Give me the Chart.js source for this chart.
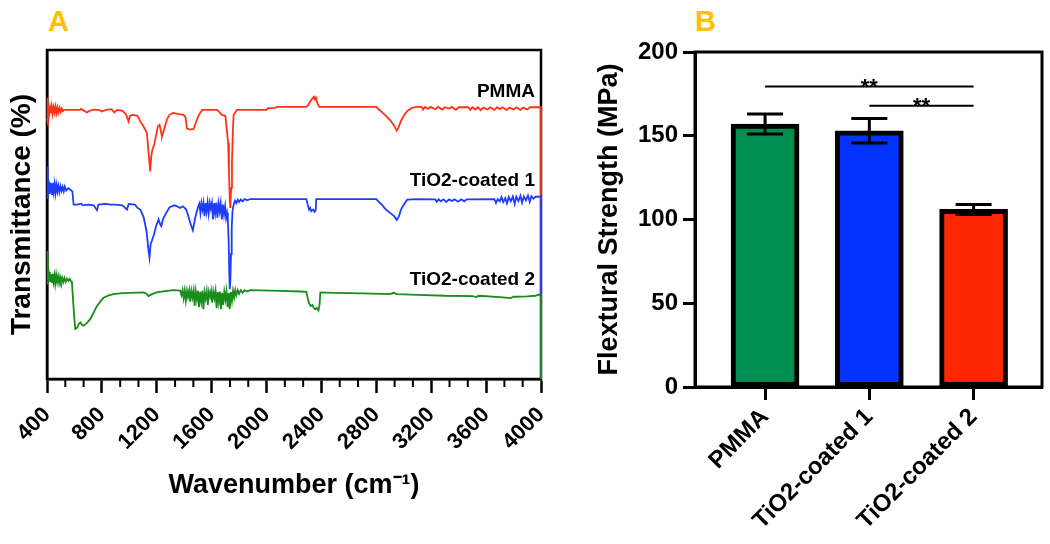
<!DOCTYPE html>
<html>
<head>
<meta charset="utf-8">
<script src="https://cdn.jsdelivr.net/npm/chart.js@4.4.1/dist/chart.umd.min.js"></script>
<style>
  html, body { margin: 0; padding: 0; background: #fff; }
  #wrap { position: relative; width: 1050px; height: 544px; overflow: hidden; }
  canvas { position: absolute; top: 0; }
  #ftir { left: 0; }
  #flex { left: 560px; }
  .panel { position: absolute; font: bold 29px "Liberation Sans", Arial, sans-serif; color: #FFC000; line-height: 29px; }
</style>
</head>
<body>
<div id="wrap">
  <div class="panel" style="left:48px; top:7px;">A</div>
  <div class="panel" style="left:695px; top:7px;">B</div>
  <canvas id="ftir" width="560" height="544"></canvas>
  <canvas id="flex" width="490" height="544"></canvas>
</div>
<script>
const FONT = '"Liberation Sans", Arial, Helvetica, sans-serif';

// ---- panel A: FTIR spectra, [wavenumber, transmittance (offset, a.u.)]
const pmmaSpectrum = [
  [400,79],[403,85.5],[406,78.2],[410,83],[416,80.5],[422,82.5],[428,80.8],[434,82.8],[440,80.6],[447,82.6],
  [454,81],[461,82.8],[468,80.8],[476,82.6],[484,81],[492,82.4],[500,81.2],[508,82.2],[515,81.4],[525,81.8],
  [600,81.8],[640,81.8],[648,82.1],[660,81.8],[690,81],[710,81.5],[730,81.8],[780,81.8],[800,81.3],[830,81.8],
  [870,82],[890,81],[910,81.8],[950,81.5],[975,80.5],[994,78.3],[1005,80],[1025,80.3],[1060,80],[1080,78.3],
  [1100,77],[1128,74.8],[1140,68.8],[1152,63.1],[1160,68],[1170,70],[1181,71.2],[1195,74],[1208,76.8],[1220,77.3],
  [1232,75],[1238,73.7],[1248,75],[1260,76.8],[1275,79],[1293,80.3],[1320,80.9],[1360,80.5],[1395,80.3],[1410,79.5],
  [1420,76.1],[1445,75.8],[1468,76],[1490,78.5],[1507,80.3],[1531,81.8],[1640,81.8],[1660,81],[1671,80.3],[1700,80],
  [1712,75],[1720,71.8],[1726,63],[1732,54.5],[1736,52],[1742,58],[1748,66],[1755,76],[1760,80.3],[1784,81.8],
  [2000,81.8],[2010,82.3],[2060,82.4],[2080,82.7],[2290,82.7],[2305,83.3],[2320,84.5],[2335,85.3],[2345,85.8],[2352,85],
  [2360,85.5],[2370,83.8],[2384,82.7],[2800,82.7],[2815,82],[2840,81.2],[2870,80],[2900,78.7],[2925,77.3],[2949,75.5],
  [2962,76.5],[2980,78.5],[3000,80],[3025,81.5],[3060,82.4],[3100,82.7],[3130,82.7],[3140,81.9],[3155,82.7],[3175,82.1],
  [3195,82.7],[3230,82],[3250,82.7],[3280,81.9],[3300,82.6],[3330,82.2],[3350,82.7],[3380,81.8],[3400,82.6],[3470,82.6],
  [3485,81.8],[3500,82.6],[3520,81.9],[3540,82.6],[3560,81.7],[3580,82.5],[3610,81.9],[3630,82.6],[3660,81.8],[3680,82.6],
  [3700,82],[3720,82.6],[3750,81.8],[3770,82.5],[3800,81.9],[3820,82.6],[3850,81.8],[3870,82.5],[3900,81.9],[3920,82.6],
  [3960,82.6],[4000,82.6],[4000,0]
];
const coated1Spectrum = [
  [400,55],[403,64.6],[407,57],[411,60.5],[416,56.5],[421,59.8],[426,56.8],[431,59.5],[437,56.2],[443,59.6],
  [449,57],[455,59.2],[461,56.5],[468,59],[475,57],[482,58.8],[490,56.8],[498,58.6],[506,57.2],[514,58.4],
  [522,57],[530,58.5],[540,57.3],[555,58],[570,57.5],[585,57],[594,53],[620,53],[650,53.3],[660,52.8],
  [700,53],[740,52.8],[764,51.3],[775,53],[830,53.2],[860,53],[900,53],[950,52.8],[983,51.5],[995,53.2],
  [1040,53],[1060,52],[1080,51.5],[1104,49.2],[1125,45],[1140,39],[1147,36.9],[1155,41],[1165,42.1],[1180,44],
  [1195,46.5],[1213,48.5],[1225,47],[1233,46.5],[1245,48.5],[1265,50.2],[1293,52.2],[1330,52.8],[1370,52],[1390,52.5],
  [1415,51.5],[1430,49.5],[1444,47.5],[1463,45.2],[1480,49],[1500,52.2],[1510,53.3],[1518,50.5],[1525,53.4],[1533,51.5],
  [1540,53.5],[1548,49.5],[1556,53.5],[1563,51],[1570,53.6],[1578,50.3],[1586,53.6],[1594,51.8],[1602,53.6],[1610,48.5],
  [1618,53.5],[1626,50.5],[1634,53.6],[1642,49],[1650,53.4],[1658,51],[1666,53.4],[1674,48.5],[1682,53],[1690,50],
  [1698,52.5],[1705,49],[1712,50.5],[1718,48],[1724,42],[1728,33],[1732,27.3],[1736,30],[1741,38],[1746,46],
  [1752,51],[1760,53],[1770,54.2],[1780,53.5],[1790,54.5],[1800,53.8],[1812,54.6],[1825,54],[1840,54.7],[1860,54.3],
  [1880,54.7],[2290,54.7],[2300,53],[2310,51.5],[2318,52],[2326,51],[2340,51.5],[2350,50.8],[2358,51.3],[2362,54.7],
  [2800,54.7],[2815,54],[2840,53],[2870,51.5],[2900,50.5],[2930,49.5],[2949,48.3],[2965,49.5],[2980,51.5],[3000,53],
  [3025,54.5],[3100,54.7],[3230,54.6],[3240,53.9],[3255,54.6],[3270,54],[3290,54.6],[3310,53.8],[3330,54.6],[3350,54.1],
  [3370,54.6],[3395,53.9],[3420,54.6],[3440,54],[3460,54.6],[3660,54.7],[3672,53.5],[3685,54.7],[3700,54],[3712,55.3],
  [3725,53.8],[3740,55],[3752,53.4],[3765,55.3],[3780,54],[3795,55.5],[3808,53.2],[3820,55.4],[3835,54.1],[3850,55.7],
  [3862,53.6],[3875,55.5],[3890,54.3],[3905,55.8],[3918,53.9],[3930,55.6],[3945,54.8],[3960,55.4],[3980,55.4],[4000,55.5],
  [4000,0]
];
const coated2Spectrum = [
  [400,29],[403,38.9],[407,31],[411,33.3],[415,29.8],[420,32.5],[425,29.4],[430,31.8],[436,29.2],[442,32],
  [448,29.6],[454,31.5],[460,29],[467,31.6],[474,29.5],[481,31.2],[488,29.2],[495,31],[502,29.6],[510,30.8],
  [518,29.4],[527,30.7],[536,29.5],[546,30.5],[556,29.8],[566,30.4],[575,29.7],[582,29.3],[590,24],[598,19],
  [606,15.2],[620,15.6],[633,16.8],[643,17.2],[655,16.5],[667,16.2],[690,17],[715,18.2],[740,20.2],[764,22.2],
  [790,23.6],[812,24.7],[850,25.4],[885,25.8],[950,26.1],[1104,26.3],[1125,25.9],[1140,25.2],[1165,25.8],[1199,26.3],
  [1260,26.7],[1320,27],[1370,26.9],[1380,25.5],[1388,27],[1396,24.5],[1404,26.9],[1412,23.8],[1420,26.8],[1428,25],
  [1436,26.9],[1444,23.5],[1452,26.8],[1460,24.8],[1468,26.9],[1476,22.2],[1484,26.7],[1492,24.2],[1500,26.8],[1508,21.8],
  [1516,26.5],[1524,23.6],[1532,26.8],[1540,21.2],[1548,26.4],[1556,24.5],[1564,26.7],[1572,22.5],[1580,26.5],[1588,25],
  [1596,26.8],[1604,23.2],[1612,26.6],[1620,24.6],[1628,26.8],[1636,21.5],[1644,26.4],[1652,23.4],[1660,26.6],[1668,21.2],
  [1676,26.2],[1684,22.5],[1692,26.5],[1700,24.2],[1708,26.7],[1716,21.8],[1724,26.2],[1732,21.2],[1740,26.4],[1748,23.8],
  [1756,26.8],[1764,24.8],[1772,27],[1780,25.5],[1790,27],[1800,25.9],[1812,27],[1826,26.3],[1840,27],[1860,26.6],
  [1880,27],[2100,26.8],[2250,26.6],[2290,26.5],[2300,24.5],[2310,23],[2322,22.2],[2335,22.5],[2345,21.5],[2355,21.2],
  [2365,21.6],[2378,20.8],[2386,22.5],[2392,26.3],[2500,26.2],[2700,26],[2900,25.8],[2925,26.2],[2950,25.8],[3100,25.6],
  [3300,25.3],[3500,25.2],[3530,24.9],[3545,25.3],[3700,24.9],[3780,24.6],[3800,25],[3900,25.1],[3960,25.3],[3980,25.6],
  [4000,25.5],[4000,0]
];
const spectrumNames = ['PMMA', 'TiO2-coated 1', 'TiO2-coated 2'];
const spectrumColors = ['#FF3218', '#1E3CFF', '#1A8C1A'];

// ---- panel B: flexural strength (MPa)
const groups = ['PMMA', 'TiO2-coated 1', 'TiO2-coated 2'];
const strengthMean = [157, 153, 106];
const strengthSD = [6, 7.3, 3];
const barColors = ['#008F50', '#0433FF', '#FF2600'];
const sigPairs = [[0, 2], [1, 2]];
const sigLevels = [179.4, 167.9];
const sigLabels = ['**', '**'];

const xy = arr => arr.map(([x, y]) => ({ x, y }));
const bold = size => ({ family: FONT, size, weight: 'bold' });

// box around plot + minor ticks + series names
const ftirDecor = {
  id: 'ftirDecor',
  beforeDatasetsDraw(chart) {
    const { ctx, chartArea: a, scales: { x } } = chart;
    ctx.save();
    ctx.strokeStyle = '#000';
    ctx.lineWidth = 2.5;
    ctx.strokeRect(a.left, a.top, a.right - a.left, a.bottom - a.top);
    ctx.lineWidth = 2;
    for (let v = 400; v < 4000; v += 400) {
      for (let k = 1; k < 3; k++) {
        const px = x.getPixelForValue(v + k * 400 / 3);
        ctx.beginPath();
        ctx.moveTo(px, a.bottom);
        ctx.lineTo(px, a.bottom + 8);
        ctx.stroke();
      }
    }
    ctx.restore();
  },
  afterDatasetsDraw(chart) {
    const { ctx, chartArea: a, scales: { y } } = chart;
    ctx.save();
    ctx.font = 'bold 19px ' + FONT;
    ctx.fillStyle = '#000';
    ctx.textAlign = 'right';
    ctx.textBaseline = 'alphabetic';
    chart.data.datasets.forEach(ds => {
      const last = ds.data[ds.data.length - 2];
      ctx.fillText(ds.label, a.right - 6, y.getPixelForValue(last.y) - 10);
    });
    ctx.restore();
  }
};

const spectra = [pmmaSpectrum, coated1Spectrum, coated2Spectrum];
// green drawn last (on top), so list it first
const ftirSets = [2, 1, 0].map(i => ({
  label: spectrumNames[i],
  data: xy(spectra[i]),
  borderColor: spectrumColors[i],
  borderWidth: 1.8,
  pointRadius: 0,
  tension: 0,
  clip: 4
}));

new Chart(document.getElementById('ftir'), {
  type: 'line',
  data: { datasets: ftirSets },
  options: {
    responsive: false,
    animation: false,
    devicePixelRatio: 1,
    layout: { padding: { left: 1, top: 50, right: 19, bottom: 38 } },
    plugins: { legend: { display: false }, tooltip: { enabled: false } },
    scales: {
      x: {
        type: 'linear', min: 400, max: 4000,
        afterFit: s => { s.height = 127; s.paddingLeft = 0; s.paddingRight = 0; },
        ticks: { stepSize: 400, autoSkip: false, minRotation: 45, maxRotation: 45, color: '#000', font: bold(22), padding: 9,
                 callback: v => String(v) },
        grid: { drawOnChartArea: false, tickLength: 14, tickWidth: 2.5, tickColor: '#000' },
        border: { color: '#000', width: 2.5 },
        title: { display: true, text: 'Wavenumber (cm⁻¹)', color: '#000', font: bold(27), padding: { top: 4, bottom: 4 } }
      },
      y: {
        min: 0, max: 100,
        afterFit: s => { s.width = 46; s.paddingTop = 0; s.paddingBottom = 0; },
        ticks: { display: false },
        grid: { display: false },
        border: { color: '#000', width: 2.5 },
        title: { display: true, text: 'Transmittance (%)', color: '#000', font: bold(28), padding: { top: 4, bottom: 4 } }
      }
    }
  },
  plugins: [ftirDecor]
});

// box, error bars and significance brackets
const flexDecor = {
  id: 'flexDecor',
  beforeDatasetsDraw(chart) {
    const { ctx, chartArea: a } = chart;
    ctx.save();
    ctx.strokeStyle = '#000';
    ctx.lineWidth = 3;
    ctx.strokeRect(a.left, a.top, a.right - a.left, a.bottom - a.top);
    ctx.restore();
  },
  afterDatasetsDraw(chart) {
    const { ctx, scales: { x, y } } = chart;
    ctx.save();
    ctx.strokeStyle = '#000';
    ctx.lineWidth = 3;
    strengthMean.forEach((m, i) => {
      const px = x.getPixelForValue(i);
      const top = y.getPixelForValue(m + strengthSD[i]);
      const bot = y.getPixelForValue(m - strengthSD[i]);
      ctx.beginPath();
      ctx.moveTo(px, top); ctx.lineTo(px, bot);
      ctx.moveTo(px - 18, top); ctx.lineTo(px + 18, top);
      ctx.moveTo(px - 18, bot); ctx.lineTo(px + 18, bot);
      ctx.stroke();
    });
    ctx.lineWidth = 2;
    ctx.font = 'bold 22px ' + FONT;
    ctx.fillStyle = '#000';
    ctx.textAlign = 'center';
    ctx.textBaseline = 'alphabetic';
    sigPairs.forEach(([a, b], k) => {
      const xa = x.getPixelForValue(a), xb = x.getPixelForValue(b);
      const py = y.getPixelForValue(sigLevels[k]);
      ctx.beginPath();
      ctx.moveTo(xa, py); ctx.lineTo(xb, py);
      ctx.stroke();
      ctx.fillText(sigLabels[k], (xa + xb) / 2, py + 7);
    });
    ctx.restore();
  }
};

new Chart(document.getElementById('flex'), {
  type: 'bar',
  data: {
    datasets: [{
      data: strengthMean.map((m, i) => ({ x: i, y: m })),
      backgroundColor: barColors,
      borderColor: '#000',
      borderWidth: 5,
      borderSkipped: false,
      barThickness: 68
    }]
  },
  options: {
    responsive: false,
    animation: false,
    devicePixelRatio: 1,
    layout: { padding: { left: 29, top: 52, right: 8, bottom: 0 } },
    plugins: { legend: { display: false }, tooltip: { enabled: false } },
    scales: {
      x: {
        type: 'linear', min: -0.672, max: 2.656, offset: false,
        afterBuildTicks: s => { s.ticks = groups.map((g, i) => ({ value: i })); },
        afterFit: s => { s.height = 157; s.paddingLeft = 0; s.paddingRight = 0; },
        ticks: { autoSkip: false, minRotation: 45, maxRotation: 45, color: '#000', font: bold(24), padding: 3,
                 callback: v => groups[v] },
        grid: { offset: false, drawOnChartArea: false, tickLength: 13, tickWidth: 3, tickColor: '#000' },
        border: { color: '#000', width: 3 }
      },
      y: {
        min: 0, max: 200,
        afterFit: s => { s.width = 106; },
        ticks: { stepSize: 50, color: '#000', font: bold(24), padding: 5 },
        grid: { drawOnChartArea: false, tickLength: 12, tickWidth: 3, tickColor: '#000' },
        border: { color: '#000', width: 3 },
        title: { display: true, text: 'Flextural Strength (MPa)', color: '#000', font: bold(27), padding: { top: 4, bottom: 4 } }
      }
    }
  },
  plugins: [flexDecor]
});
</script>
</body>
</html>
